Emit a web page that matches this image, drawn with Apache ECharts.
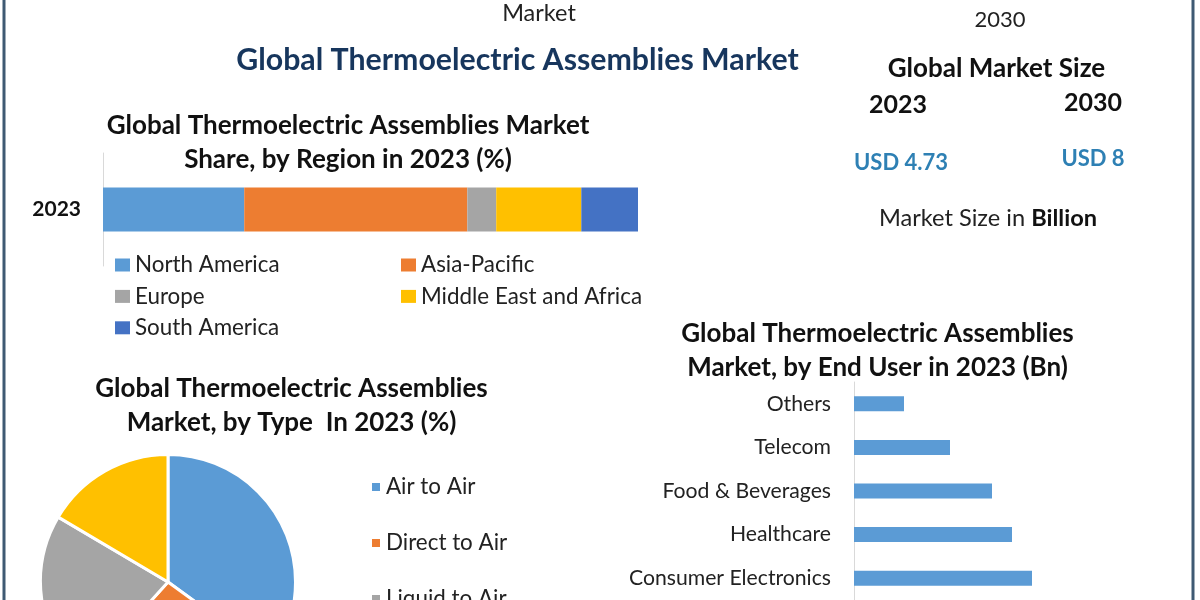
<!DOCTYPE html>
<html lang="en">
<head>
    <meta charset="UTF-8">
    <title>Global Thermoelectric Assemblies Market</title>
    <script src="https://cdn.jsdelivr.net/npm/echarts@6/dist/echarts.min.js"></script>
</head>

<style>
    body {
        margin:0;
        padding:0;
        background:#fff;
    }
</style>

<body>

<div id="main" style="width: 1200px;height: 600px;"></div>

<script>
    var regionYear = ['2023'];
    var regionNames = ['North America', 'Asia-Pacific', 'Europe', 'Middle East and Africa', 'South America'];
    var regionShares = [26.4, 41.7, 5.4, 15.9, 10.6];
    var regionColors = ['#5b9bd5', '#ed7d31', '#a5a5a5', '#ffc000', '#4472c4'];

    var typeNames = ['Air to Air', 'Direct to Air', 'Liquid to Air', 'Direct to Liquid'];
    var typeShares = [35, 26.7, 21.8, 16.5];
    var typeColors = ['#5b9bd5', '#ed7d31', '#a5a5a5', '#ffc000'];

    // the source has no value axis, so the scale here is only a guess from bar lengths
    var userNames = ['Others', 'Telecom', 'Food & Beverages', 'Healthcare', 'Consumer Electronics'];
    var userValues = [0.25, 0.48, 0.69, 0.79, 0.89];

    var font = 'Lato';

    function heading(text, x, y, size, color, weight) {
        return {
            text: text,
            left: x,
            top: y,
            textAlign: 'center',
            textStyle: {fontFamily: font, fontSize: size, color: color || '#111', fontWeight: weight || 'bold', lineHeight: size * 1.3},
            padding: 0
        };
    }

    var regionSeries = regionNames.map(function (name, i) {
        return {
            name: name,
            type: 'bar',
            stack: 'region',
            xAxisIndex: 0,
            yAxisIndex: 0,
            barWidth: 44,
            itemStyle: {color: regionColors[i]},
            data: [regionShares[i]]
        };
    });

    var legendText = {fontFamily: font, fontSize: 22.4, color: '#222'};

    var option = {
        animation: false,
        title: [
            heading('Market', 539, -2, 23.5, '#222', 'normal'),
            heading('2030', 1000, 6, 22, '#222', 'normal'),
            heading('Global Thermoelectric Assemblies Market', 517.5, 41, 30.3, '#17365d'),
            heading('Global Market Size', 996.5, 52, 26),
            heading('2023', 898, 89, 25),
            heading('2030', 1093, 87, 25),
            heading('USD 4.73', 901, 149, 22, '#2e80b4'),
            heading('USD 8', 1093, 145, 22, '#2e80b4'),
            heading('Market Size in {b|Billion}', 988, 203, 23.6, '#222', 'normal'),
            heading('Global Thermoelectric Assemblies Market\nShare, by Region in 2023 (%)', 348, 109, 26),
            heading('Global Thermoelectric Assemblies\nMarket, by Type  In 2023 (%)', 291.5, 372, 26),
            heading('Global Thermoelectric Assemblies\nMarket, by End User in 2023 (Bn)', 877.5, 317, 26)
        ],
        legend: [
            {
                orient: 'vertical', left: 115, top: 254, height: 110, itemGap: 9.4, itemWidth: 15, itemHeight: 13, padding: 0,
                icon: 'rect', textStyle: legendText,
                data: ['North America', 'Europe', 'South America']
            },
            {
                orient: 'vertical', left: 401, top: 254, height: 110, itemGap: 9.4, itemWidth: 15, itemHeight: 13, padding: 0,
                icon: 'rect', textStyle: legendText,
                data: ['Asia-Pacific', 'Middle East and Africa']
            },
            {
                orient: 'vertical', left: 370, top: 476, height: 220, itemGap: 34, itemWidth: 10, itemHeight: 10, padding: 0,
                icon: 'rect', textStyle: legendText,
                data: ['Air to Air', 'Direct to Air', 'Liquid to Air']
            }
        ],
        grid: [
            {left: 103, top: 153, width: 535, height: 113},
            {left: 854, top: 382, width: 200, height: 218}
        ],
        xAxis: [
            {gridIndex: 0, type: 'value', min: 0, max: 100, show: false},
            {gridIndex: 1, type: 'value', min: 0, max: 1, show: false}
        ],
        yAxis: [
            {
                gridIndex: 0, type: 'category', data: regionYear,
                axisTick: {show: false},
                axisLine: {lineStyle: {color: '#d9d9d9'}},
                axisLabel: {fontFamily: font, fontSize: 21, fontWeight: 'bold', color: '#111', margin: 22}
            },
            {
                gridIndex: 1, type: 'category', data: userNames, inverse: true,
                axisTick: {show: false},
                axisLine: {lineStyle: {color: '#d9d9d9'}},
                axisLabel: {fontFamily: font, fontSize: 21.2, color: '#222', margin: 23}
            }
        ],
        series: regionSeries.concat([
            {
                name: 'End User',
                type: 'bar',
                xAxisIndex: 1,
                yAxisIndex: 1,
                barWidth: 15,
                itemStyle: {color: '#5b9bd5'},
                data: userValues
            },
            {
                name: 'Type',
                type: 'pie',
                center: [168, 582],
                radius: 127.5,
                startAngle: 90,
                label: {show: false},
                labelLine: {show: false},
                itemStyle: {borderColor: '#fff', borderWidth: 3},
                data: typeNames.map(function (name, i) {
                    return {name: name, value: typeShares[i], itemStyle: {color: typeColors[i]}};
                })
            }
        ]),
        graphic: [
            {type: 'line', shape: {x1: 4, y1: 0, x2: 4, y2: 600}, style: {stroke: '#3f5a73', lineWidth: 3}},
            {type: 'line', shape: {x1: 1193, y1: 0, x2: 1193, y2: 600}, style: {stroke: '#3f5a73', lineWidth: 3}}
        ]
    };

    option.title[8].textStyle.rich = {b: {fontFamily: font, fontSize: 23.6, fontWeight: 'bold', color: '#111'}};

    var myChart = echarts.init(document.getElementById('main'));
    myChart.setOption(option);
</script>

</body>
</html>
